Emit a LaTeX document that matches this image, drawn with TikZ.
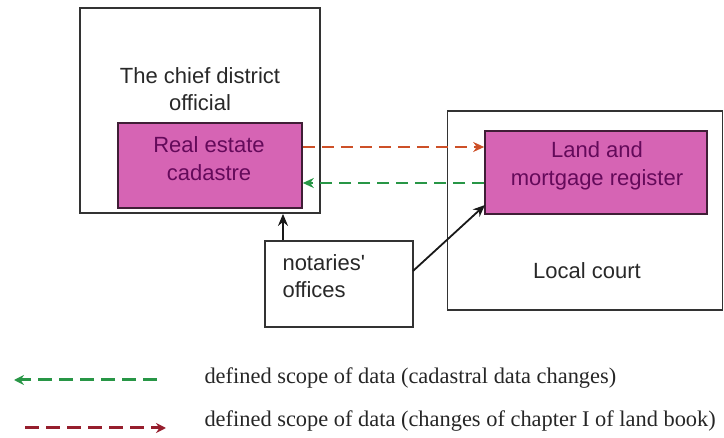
\documentclass[tikz,border=0pt]{standalone}
\usepackage{fontspec}
\setmainfont{Liberation Serif}
\setsansfont{Liberation Sans}
\usetikzlibrary{arrows.meta}

\definecolor{boxpink}{RGB}{214,100,180}
\definecolor{boxtext}{RGB}{100,10,90}
\definecolor{labelgray}{RGB}{40,40,40}
\definecolor{flowred}{RGB}{205,80,40}
\definecolor{flowgreen}{RGB}{40,150,70}
\definecolor{keyred}{RGB}{150,30,45}

\tikzset{
  outerbox/.style={draw=black!80, line width=1.8pt},
  registry/.style={draw=black!70!boxpink, line width=1.6pt, fill=boxpink},
  registrytext/.style={text=boxtext, font=\sffamily\fontsize{22}{28}\selectfont, align=center},
  plainlabel/.style={text=labelgray, font=\sffamily\fontsize{22}{27}\selectfont, align=center},
  keytext/.style={text=black!85, font=\fontsize{22.4}{25}\selectfont, anchor=west},
  flow/.style={-{Stealth[length=11pt,width=10pt]}, line width=2.6pt, dash pattern=on 12pt off 7pt},
  keyflow/.style={line width=3pt, dash pattern=on 14pt off 7pt},
  feed/.style={-{Stealth[length=12pt,width=10pt]}, line width=1.8pt, black!90}
}

\begin{document}
\begin{tikzpicture}[x=1pt, y=-1pt]
  \useasboundingbox (0,0) rectangle (724,438);

  % authorities
  \node[outerbox, minimum width=240pt, minimum height=205pt] (chief) at (200,110.5) {};
  \node[outerbox, minimum width=275pt, minimum height=199pt] (court) at (585,210.5) {};
  \node[outerbox, minimum width=148pt, minimum height=86pt] (notary) at (339,284) {};

  \node[plainlabel] (chieflabel) at (200,89.5) {The chief district\\official};
  \node[plainlabel] (courtlabel) at (587,271) {Local court};
  \node[plainlabel, align=left, anchor=west] (notarylabel) at (279,276) {notaries\textquotesingle\\offices};

  % registers
  \node[registry, minimum width=184pt, minimum height=85pt] (cadastre) at (210,165.5) {};
  \node[registry, minimum width=222pt, minimum height=83pt] (landreg) at (596,172.5) {};
  \node[registrytext] (cadastretext) at (209,158.5) {Real estate\\cadastre};
  \node[registrytext] (landregtext) at (597,165.5) {Land and\\mortgage register};

  % data exchange between the registers
  \coordinate (ylevelA) at (0,147);
  \coordinate (ylevelB) at (0,183);
  \draw[flow, flowred] (cadastre.east |- ylevelA) -- (landreg.west |- ylevelA);
  \draw[flow, flowgreen] (landreg.west |- ylevelB) -- (cadastre.east |- ylevelB);

  % notaries feed both registers
  \coordinate (upx) at (283,0);
  \draw[feed] (notary.north -| upx) -- (chief.south -| upx);
  \coordinate (diagstart) at (413,271);
  \coordinate (diagend) at (485,205);
  \draw[feed] (diagstart) -- (diagend);

  % key
  \coordinate (ka1) at (157,380);
  \coordinate (ka2) at (14,380);
  \coordinate (kb1) at (25,428);
  \coordinate (kb2) at (166,428);
  \draw[keyflow, flowgreen, -{Stealth[length=10pt,width=10pt]}] (ka1) -- (ka2);
  \draw[keyflow, keyred, -{Stealth[length=10pt,width=10pt]}] (kb1) -- (kb2);
  \node[keytext] (keyA) at (201,378) {defined scope of data (cadastral data changes)};
  \node[keytext] (keyB) at (201,421) {defined scope of data (changes of chapter I of land book)};
\end{tikzpicture}
\end{document}
